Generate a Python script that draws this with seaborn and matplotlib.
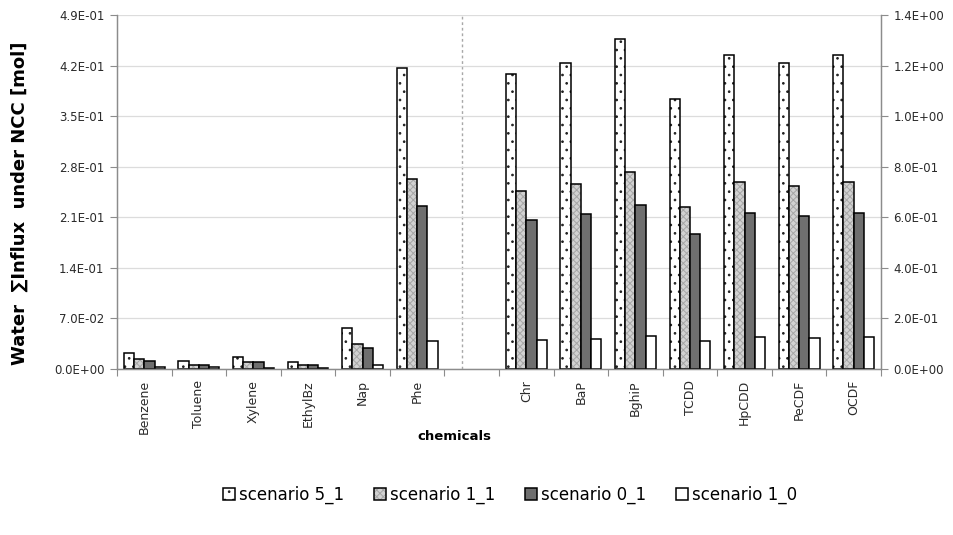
import matplotlib
matplotlib.use("Agg")
import matplotlib.pyplot as plt
from matplotlib.ticker import FixedLocator, FuncFormatter
import pandas as pd
import seaborn as sns

sns.set_theme(style="white")
plt.rcParams['font.family'] = ['DejaVu Sans']
plt.rcParams['hatch.linewidth'] = 0.7

scenarios = ["scenario 5_1", "scenario 1_1", "scenario 0_1", "scenario 1_0"]
left_chems = ["Benzene", "Toluene", "Xylene", "EthylBz", "Nap", "Phe"]
right_chems = ["Chr", "BaP", "BghiP", "TCDD", "HpCDD", "PeCDF", "OCDF"]
spacer = ""
categories = left_chems + [spacer] + right_chems

# Water influx [mol], volatile / light compounds (left axis)
s51_left = [0.0216, 0.0115, 0.0170, 0.0097, 0.0570, 0.4170]
s11_left = [0.0133, 0.0050, 0.0097, 0.0055, 0.0340, 0.2630]
s01_left = [0.0115, 0.0050, 0.0097, 0.0055, 0.0285, 0.2260]
s10_left = [0.0030, 0.0025, 0.0020, 0.0020, 0.0060, 0.0382]

# Water influx [mol], heavy compounds (right axis)
s51_right = [1.166, 1.209, 1.305, 1.066, 1.240, 1.209, 1.240]
s11_right = [0.704, 0.730, 0.778, 0.642, 0.741, 0.725, 0.741]
s01_right = [0.589, 0.613, 0.648, 0.534, 0.618, 0.605, 0.618]
s10_right = [0.115, 0.120, 0.132, 0.110, 0.128, 0.121, 0.128]

left_ticks = [0.0, 0.07, 0.14, 0.21, 0.28, 0.35, 0.42, 0.49]
right_ticks = [0.0, 0.2, 0.4, 0.6, 0.8, 1.0, 1.2, 1.4]


def long_frame(chems, series):
    rows = []
    for scen, vals in zip(scenarios, series):
        for chem, v in zip(chems, vals):
            rows.append({"chemical": chem, "scenario": scen, "value": v})
    return pd.DataFrame(rows)


df_left = long_frame(left_chems, [s51_left, s11_left, s01_left, s10_left])
df_right = long_frame(right_chems, [s51_right, s11_right, s01_right, s10_right])

fig = plt.figure(figsize=(9.54, 5.35), dpi=100)
ax = fig.add_axes([117 / 954, 1 - 369 / 535, (881 - 117) / 954, (369 - 15) / 535])
ax2 = ax.twinx()

common = dict(x="chemical", y="value", hue="scenario", order=categories,
              hue_order=scenarios, width=0.75, gap=0, edgecolor="black",
              linewidth=1.1, legend=False, err_kws={"linewidth": 0},
              color="white")
sns.barplot(data=df_left, ax=ax, **common)
sns.barplot(data=df_right, ax=ax2, **common)

styles = [
    dict(face="white", hatch="..", hatch_color="#202020"),
    dict(face="#d2d2d2", hatch="xxxxx", hatch_color="#a6a6a6"),
    dict(face="#6f6f6f", hatch=None, hatch_color="black"),
    dict(face="white", hatch=None, hatch_color="black"),
]

for a in (ax, ax2):
    for cont, st in zip(a.containers, styles):
        for p in cont.patches:
            p.set_facecolor(st["face"])
            p.set_edgecolor("black")
            p.set_linewidth(1.1)
            if st["hatch"]:
                p.set_hatch(st["hatch"])
                p._hatch_color = matplotlib.colors.to_rgba(st["hatch_color"])

sci = FuncFormatter(lambda v, _: f"{v:.1E}")

ax.set_xlim(-0.5, len(categories) - 0.5)
ax.set_ylim(0, 0.49)
ax2.set_ylim(0, 1.4)
ax.yaxis.set_major_locator(FixedLocator(left_ticks))
ax2.yaxis.set_major_locator(FixedLocator(right_ticks))
ax.yaxis.set_major_formatter(sci)
ax2.yaxis.set_major_formatter(sci)

ax.set_xticks(range(len(categories)))
ax.set_xticklabels(categories, rotation=90, fontsize=9, color="#2a2a2a")
ax.xaxis.set_minor_locator(FixedLocator([i - 0.5 for i in range(len(categories) + 1)]))
ax.tick_params(axis="x", which="major", length=0, pad=8)
ax.tick_params(axis="x", which="minor", length=5, color="#8c8c8c", width=0.8, bottom=True)
ax.tick_params(axis="y", length=5, color="#8c8c8c", width=0.8, left=True,
               labelsize=8.5, labelcolor="#2a2a2a", pad=4)
ax2.tick_params(axis="y", length=5, color="#8c8c8c", width=0.8, right=True,
                labelsize=8.5, labelcolor="#2a2a2a", pad=4)

ax.yaxis.grid(True, color="#dcdcdc", linewidth=0.9)
ax.set_axisbelow(True)
ax2.grid(False)

for a in (ax, ax2):
    a.set_xlabel("")
    a.set_ylabel("")
    a.spines["top"].set_visible(False)
    for s in ("left", "right", "bottom"):
        a.spines[s].set_color("#8c8c8c")
        a.spines[s].set_linewidth(0.9)

ax.axvline(5.82, color="#a8a8a8", linestyle=(0, (2, 2)), linewidth=1.0, zorder=0.5)

fig.text(20 / 954, 1 - 203 / 535, "Water  \u2211Influx  under NCC [mol]",
         rotation=90, ha="center", va="center", fontsize=13, fontweight="bold",
         color="black")
fig.text(454 / 954, 1 - 437 / 535, "chemicals", ha="center", va="center",
         fontsize=9.5, fontweight="bold", color="black")

fig.legend(ax.containers, scenarios, loc="center", bbox_to_anchor=(510 / 954, 1 - 495 / 535),
           ncol=4, frameon=False, handlelength=0.7, handleheight=0.7,
           handletextpad=0.25, columnspacing=1.8, labelcolor="black",
           prop={"family": ["Liberation Sans Narrow", "DejaVu Sans"], "size": 12})

fig.savefig("out.png", dpi=100, facecolor="white")
